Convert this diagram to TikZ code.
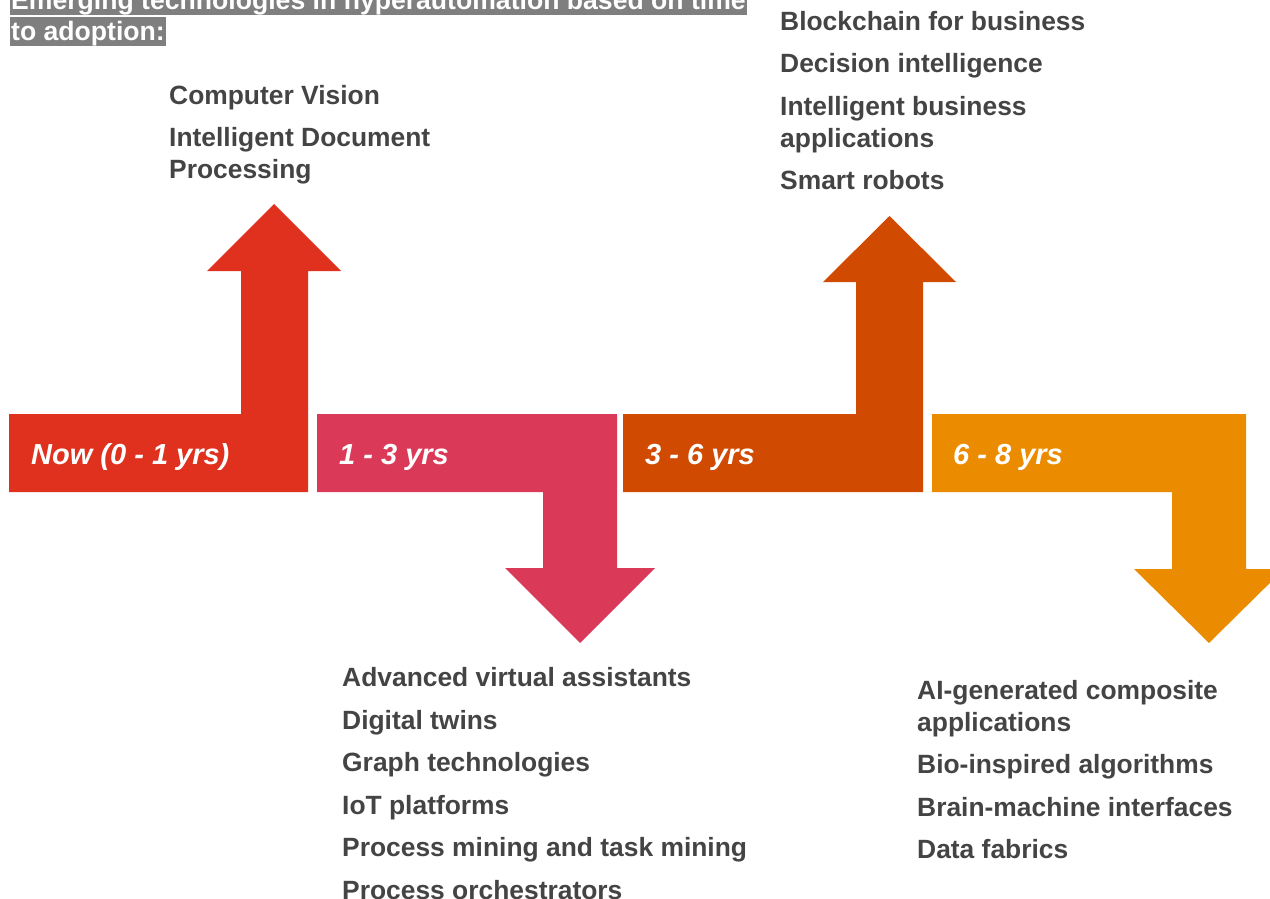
\documentclass[tikz,border=0pt]{standalone}
\usepackage{fontspec}
\setmainfont{Liberation Sans}

\definecolor{nowred}{HTML}{E0301E}
\definecolor{rose}{HTML}{DA3A58}
\definecolor{rust}{HTML}{D04A02}
\definecolor{tangerine}{HTML}{EB8C00}
\definecolor{inkgray}{HTML}{444444}
\definecolor{bannergray}{HTML}{7F7F7F}

\begin{document}
\begin{tikzpicture}[
    x=1pt, y=-1pt,
    period label/.style={anchor=base west, inner sep=0pt, text=white,
        font=\fontsize{29}{34}\selectfont\bfseries\itshape},
    % multi-line nodes: base anchor sits on the last line
    tech list/.style={anchor=base west, inner sep=0pt, align=left, text=inkgray,
        font=\fontsize{26.4}{32}\selectfont\bfseries},
    banner/.style={anchor=base west, fill=bannergray, text=white, inner xsep=1.5pt,
        inner ysep=0pt, text height=23.5pt, text depth=5.5pt,
        font=\fontsize{26.6}{31}\selectfont\bfseries},
]

\useasboundingbox (0,0) rectangle (1270,899);

% Heading, highlighted line by line
\node[banner] (head a) at (9.5,9.5) {Emerging technologies in hyperautomation based on time\ };
\node[banner] (head b) at (9.5,40.5) {to adoption:};

% Now: bar turning up
\fill[nowred] (9,414) -- (241,414) -- (241,271) -- (207,271) -- (274,204) -- (341,271)
    -- (308,271) -- (308,492) -- (9,492) -- cycle;

% 1-3 yrs: bar turning down
\fill[rose] (317,414) -- (617,414) -- (617,568) -- (655,568) -- (580,643) -- (505,568)
    -- (543,568) -- (543,492) -- (317,492) -- cycle;

% 3-6 yrs: bar turning up
\fill[rust] (623,414) -- (856,414) -- (856,282) -- (823,282) -- (889.5,216) -- (956,282)
    -- (923,282) -- (923,492) -- (623,492) -- cycle;

% 6-8 yrs: bar turning down (head runs off the edge)
\fill[tangerine] (932,414) -- (1246,414) -- (1246,569) -- (1284,569) -- (1209,643)
    -- (1134,569) -- (1172,569) -- (1172,492) -- (932,492) -- cycle;

% Period labels
\node[period label] (now) at (31,464) {Now (0 - 1 yrs)};
\node[period label] (yrs13) at (339,464) {1 - 3 yrs};
\node[period label] (yrs36) at (645,464) {3 - 6 yrs};
\node[period label] (yrs68) at (953,464) {6 - 8 yrs};

% Technologies per period
\node[tech list] (list now) at (169,178.5) {Computer Vision\\[10.5pt]
    Intelligent Document\\Processing};
\node[tech list] (list 13) at (342,899) {Advanced virtual assistants\\[10.5pt]
    Digital twins\\[10.5pt]
    Graph technologies\\[10.5pt]
    IoT platforms\\[10.5pt]
    Process mining and task mining\\[10.5pt]
    Process orchestrators};
\node[tech list] (list 36) at (780,189.5) {Blockchain for business\\[10.5pt]
    Decision intelligence\\[10.5pt]
    Intelligent business\\applications\\[10.5pt]
    Smart robots};
\node[tech list] (list 68) at (917,858.5) {AI-generated composite\\applications\\[10.5pt]
    Bio-inspired algorithms\\[10.5pt]
    Brain-machine interfaces\\[10.5pt]
    Data fabrics};

\end{tikzpicture}
\end{document}
